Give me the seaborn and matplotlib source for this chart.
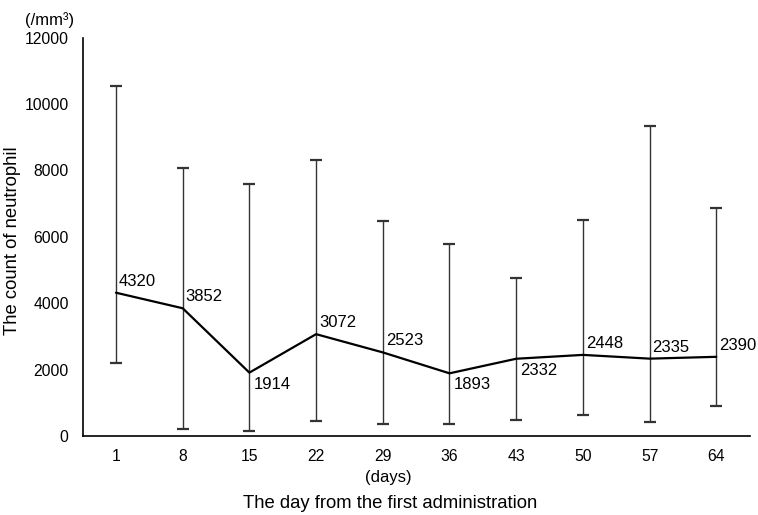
import matplotlib
matplotlib.use("Agg")
import matplotlib.pyplot as plt
import seaborn as sns
import numpy as np
import pandas as pd

days = [1, 8, 15, 22, 29, 36, 43, 50, 57, 64]
means = [4320, 3852, 1914, 3072, 2523, 1893, 2332, 2448, 2335, 2390]
upper = [10530, 8070, 7590, 8330, 6480, 5780, 4750, 6520, 9350, 6880]
lower = [2190, 220, 160, 460, 370, 370, 490, 650, 440, 920]
label_below = [False, False, True, False, False, True, True, False, False, False]

sns.set_theme(style="white")
plt.rcParams['font.family'] = ['Liberation Sans', 'DejaVu Sans']

fig = plt.figure(figsize=(7.58, 5.15), dpi=100)
ax = fig.add_axes([0.109, 0.153, 0.880, 0.774])

pos = np.arange(len(days))
df = pd.DataFrame({"pos": pos, "mean": means})

yerr = np.array([np.array(means) - np.array(lower), np.array(upper) - np.array(means)])
ax.errorbar(pos, means, yerr=yerr, fmt='none', ecolor='#333333', elinewidth=1.0,
            capsize=4, capthick=1.6, zorder=2)
sns.lineplot(data=df, x="pos", y="mean", color='black', linewidth=1.6, ax=ax, zorder=3)

for p, m, b in zip(pos, means, label_below):
    if b:
        ax.annotate(f"{m}", (p, m), xytext=(4, -4), textcoords='offset pixels',
                    ha='left', va='top', fontsize=12, color='black')
    else:
        ax.annotate(f"{m}", (p, m), xytext=(3, 4), textcoords='offset pixels',
                    ha='left', va='bottom', fontsize=12, color='black')

ax.set_xlim(-0.5, len(days) - 0.5)
ax.set_ylim(0, 12000)
ax.set_xticks(pos)
ax.set_xticklabels([str(d) for d in days])
ax.set_yticks(np.arange(0, 12001, 2000))
ax.tick_params(axis='both', length=0, labelsize=11.3, colors='black')
ax.tick_params(axis='y', pad=10)
ax.tick_params(axis='x', pad=9)

for s in ['top', 'right']:
    ax.spines[s].set_visible(False)
for s in ['left', 'bottom']:
    ax.spines[s].set_color('black')
    ax.spines[s].set_linewidth(1.2)

ax.set_xlabel("The day from the first administration", fontsize=13.3, color='black')
ax.xaxis.set_label_coords(0.4605, -0.148)
ax.set_ylabel("The count of neutrophil", fontsize=13.3, color='black')
ax.yaxis.set_label_coords(-0.093, 0.49)
ax.text(0.459, -0.104, "(days)", transform=ax.transAxes, ha='center', va='center',
        fontsize=12, color='black')
fig.text(0.033, 0.962, "(/mm³)", ha='left', va='center', fontsize=12, color='black')

fig.savefig("out.png", dpi=100)
